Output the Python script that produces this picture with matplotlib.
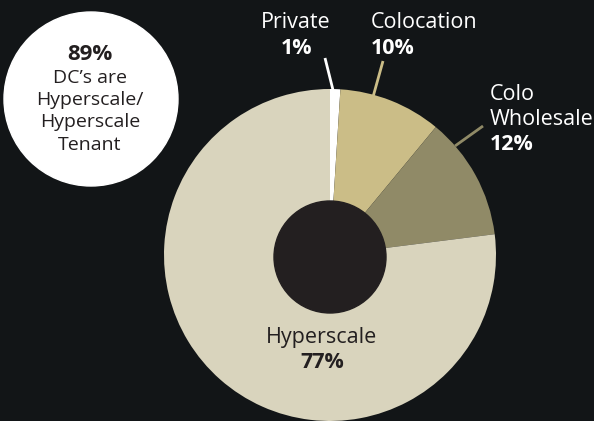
import matplotlib
matplotlib.use("Agg")
import matplotlib.pyplot as plt
from matplotlib.patches import Circle

# ---- data ----
categories = ["Private", "Colocation", "Colo\nWholesale", "Hyperscale"]
values = [1, 10, 12, 77]
pct_labels = ["1%", "10%", "12%", "77%"]
callout_pct = "89%"
callout_text = "DC\u2019s are\nHyperscale/\nHyperscale\nTenant"

# ---- style ----
BG = "#121517"
HOLE = "#231f20"
colors = ["#ffffff", "#cbbd87", "#908a67", "#d9d4bd"]
FONT = ["Open Sans", "DejaVu Sans"]
FS = 15.5

W, H = 594, 421
fig = plt.figure(figsize=(W / 100, H / 100), dpi=100, facecolor=BG)
ax = fig.add_axes([0, 0, 1, 1])

def Y(y):  # image-pixel y -> data y
    return H - y

cx, cy, R = 330, 255, 166
ax.pie(values, colors=colors, startangle=90, counterclock=False,
       center=(cx, Y(cy)), radius=R, frame=True,
       wedgeprops=dict(linewidth=0))
ax.set_xlim(0, W)
ax.set_ylim(0, H)
ax.set_aspect("equal")
ax.axis("off")

# hole
ax.add_patch(Circle((330, Y(257)), 56, color=HOLE, zorder=3))

# callout circle
ax.add_patch(Circle((91, Y(99)), 87, color="white", zorder=3))
ax.text(90, Y(54), callout_pct, ha="center", va="center", fontsize=16,
        fontweight="bold", color=HOLE, family=FONT, zorder=4)
for i, line in enumerate(callout_text.split("\n")):
    ax.text(90, Y(78 + 22.2 * i), line, ha="center", va="center", fontsize=14,
            color=HOLE, family=FONT, zorder=4)

# leader lines
leaders = [((325, 58), (333, 90), colors[0]),
           ((383, 61), (373, 97), colors[1]),
           ((483, 126), (455, 146), colors[2])]
for (x0, y0), (x1, y1), c in leaders:
    ax.plot([x0, x1], [Y(y0), Y(y1)], color=c, lw=2, solid_capstyle="butt", zorder=2)

txt = dict(family=FONT, color="white", fontsize=FS)
# Private
ax.text(296, Y(23), categories[0], ha="center", va="center", **txt)
ax.text(297, Y(48), pct_labels[0], ha="center", va="center", fontweight="bold", **txt)
# Colocation
ax.text(371, Y(23), categories[1], ha="left", va="center", **txt)
ax.text(371, Y(48), pct_labels[1], ha="left", va="center", fontweight="bold", **txt)
# Colo Wholesale
for i, line in enumerate(categories[2].split("\n")):
    ax.text(490, Y(94 + 25.5 * i), line, ha="left", va="center", **txt)
ax.text(490, Y(144), pct_labels[2], ha="left", va="center", fontweight="bold", **txt)
# Hyperscale
dtxt = dict(family=FONT, color=HOLE, fontsize=FS)
ax.text(322, Y(337), categories[3], ha="center", va="center", **dtxt)
ax.text(322, Y(363), pct_labels[3], ha="center", va="center", fontweight="bold", **dtxt)

fig.savefig("out.png", dpi=100, facecolor=BG)
